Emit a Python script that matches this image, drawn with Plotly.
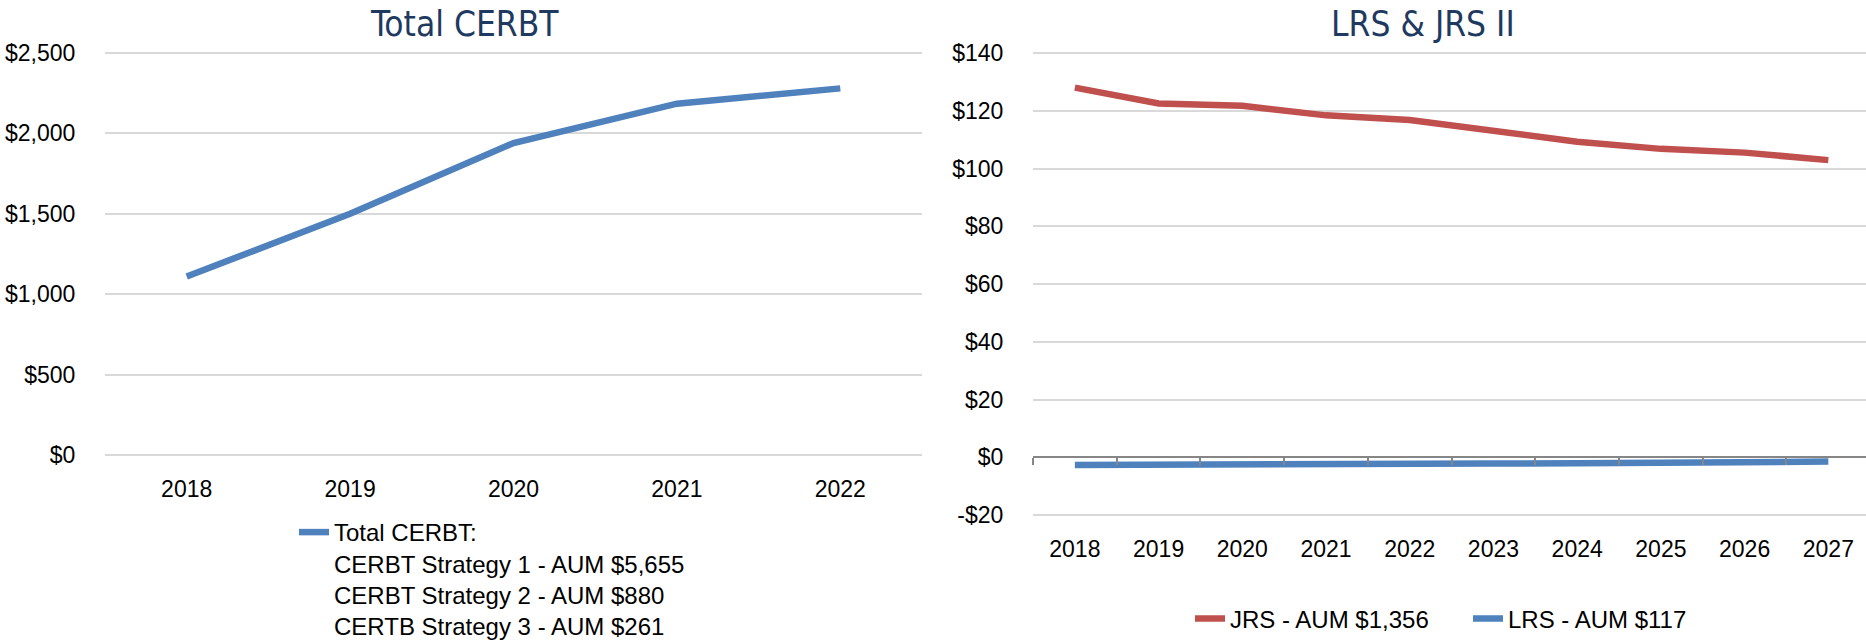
import plotly.graph_objects as go

W, H = 1866, 644

# ---- data ----
cerbt_years = ["2018", "2019", "2020", "2021", "2022"]
cerbt_total = [1110, 1500, 1940, 2185, 2280]

ret_years = ["2018", "2019", "2020", "2021", "2022", "2023", "2024", "2025", "2026", "2027"]
jrs_values = [128.0, 122.5, 121.7, 118.4, 116.8, 112.9, 109.3, 106.8, 105.5, 102.9]
lrs_values = [-2.7, -2.7, -2.6, -2.5, -2.4, -2.2, -2.1, -1.9, -1.7, -1.5]

cerbt_ticks = [0, 500, 1000, 1500, 2000, 2500]
ret_ticks = [-20, 0, 20, 40, 60, 80, 100, 120, 140]

cerbt_name = ("Total CERBT:<br>CERBT Strategy 1 - AUM $5,655<br>"
              "CERBT Strategy 2 - AUM $880<br>CERTB Strategy 3 - AUM $261")
jrs_name = "JRS - AUM $1,356"
lrs_name = "LRS - AUM $117"


def money(v):
    return f"-${abs(v):,}" if v < 0 else f"${v:,}"


# ---- styling ----
BLUE = "#4F81BD"
RED = "#C0504D"
GRID = "#D9D9D9"
AXIS = "#868686"
NAVY = "#1F3A60"
FONT = "Liberation Sans, Arial, sans-serif"
TITLE_FONT = "DejaVu Sans Condensed, DejaVu Sans, sans-serif"
TICK_FONT = dict(family=FONT, size=23, color="#000000")
LEG_FONT = dict(family=FONT, size=24, color="#000000")
LINE_W = 6.5


def fx(p):
    return p / W


def fy(p):
    return 1 - p / H


def y_frame(top_px, bottom_px, lo, hi, pad=2):
    """Domain/range pair that keeps the value->pixel scale but leaves a few
    pixels of slack so the first and last gridlines are drawn."""
    per_px = (hi - lo) / (bottom_px - top_px)
    dom = [fy(bottom_px + pad), fy(top_px - pad)]
    rng = [lo - pad * per_px, hi + pad * per_px]
    return dom, rng


left_dom_x = [fx(105), fx(922)]
left_dom_y, left_rng_y = y_frame(53, 455, cerbt_ticks[0], cerbt_ticks[-1])
right_dom_x = [fx(1033), 1.0]
right_dom_y, right_rng_y = y_frame(53, 515, ret_ticks[0], ret_ticks[-1])

zero_pos = right_dom_y[0] + (0 - right_rng_y[0]) / (right_rng_y[1] - right_rng_y[0]) * (
    right_dom_y[1] - right_dom_y[0])

fig = go.Figure()

fig.add_trace(go.Scatter(
    x=cerbt_years, y=cerbt_total, name=cerbt_name, mode="lines",
    line=dict(color=BLUE, width=LINE_W), xaxis="x", yaxis="y", legend="legend",
))
fig.add_trace(go.Scatter(
    x=ret_years, y=jrs_values, name=jrs_name, mode="lines",
    line=dict(color=RED, width=LINE_W), xaxis="x2", yaxis="y2", legend="legend2",
))
fig.add_trace(go.Scatter(
    x=ret_years, y=lrs_values, name=lrs_name, mode="lines",
    line=dict(color=BLUE, width=LINE_W), xaxis="x3", yaxis="y2", legend="legend2",
))

hidden_tick = dict(ticks="outside", tickcolor="rgba(0,0,0,0)", automargin=False)

fig.update_layout(
    template="none",
    width=W, height=H,
    margin=dict(l=0, r=0, t=0, b=0, autoexpand=False),
    paper_bgcolor="white", plot_bgcolor="white",
    showlegend=True,
    xaxis=dict(
        domain=left_dom_x, anchor="y", type="category",
        range=[-0.5, len(cerbt_years) - 0.5],
        showgrid=False, zeroline=False, showline=False,
        tickfont=TICK_FONT, ticklen=11, **hidden_tick,
    ),
    yaxis=dict(
        domain=left_dom_y, anchor="x", range=left_rng_y,
        tickvals=cerbt_ticks, ticktext=[money(v) for v in cerbt_ticks],
        showgrid=True, gridcolor=GRID, gridwidth=2,
        zeroline=False, showline=False,
        tickfont=TICK_FONT, ticklen=24, **hidden_tick,
    ),
    xaxis2=dict(
        domain=right_dom_x, anchor="y2", type="category",
        range=[-0.5, len(ret_years) - 0.55],
        showgrid=False, zeroline=False, showline=False,
        tickfont=TICK_FONT, ticklen=11, **hidden_tick,
    ),
    xaxis3=dict(
        overlaying="x2", anchor="free", position=zero_pos, side="bottom",
        type="category", range=[-0.5, len(ret_years) - 0.55],
        showgrid=False, zeroline=False, automargin=False,
        showline=True, linecolor=AXIS, linewidth=2,
        ticks="outside", tickson="boundaries", ticklen=7,
        tickcolor=AXIS, tickwidth=1.5, showticklabels=False,
    ),
    yaxis2=dict(
        domain=right_dom_y, anchor="x2", range=right_rng_y,
        tickvals=ret_ticks, ticktext=[money(v) for v in ret_ticks],
        showgrid=True, gridcolor=GRID, gridwidth=2,
        zeroline=False, showline=False,
        tickfont=TICK_FONT, ticklen=24, **hidden_tick,
    ),
    legend=dict(
        x=fx(294), y=fy(510), xanchor="left", yanchor="top",
        orientation="v", valign="top",
        font=LEG_FONT, bgcolor="rgba(0,0,0,0)", borderwidth=0, itemwidth=30,
    ),
    legend2=dict(
        x=fx(1190), y=fy(619), xanchor="left", yanchor="middle",
        orientation="h", entrywidth=233, entrywidthmode="pixels",
        font=LEG_FONT, bgcolor="rgba(0,0,0,0)", borderwidth=0, itemwidth=30,
    ),
    annotations=[
        dict(text="Total CERBT", x=fx(464), y=fy(24), xref="paper", yref="paper",
             xanchor="center", yanchor="middle", showarrow=False,
             font=dict(family=TITLE_FONT, size=35, color=NAVY)),
        dict(text="LRS &amp; JRS II", x=fx(1423), y=fy(24), xref="paper", yref="paper",
             xanchor="center", yanchor="middle", showarrow=False,
             font=dict(family=TITLE_FONT, size=35, color=NAVY)),
    ],
)

fig.write_html("out.html", include_plotlyjs=True, config={"displayModeBar": False})
